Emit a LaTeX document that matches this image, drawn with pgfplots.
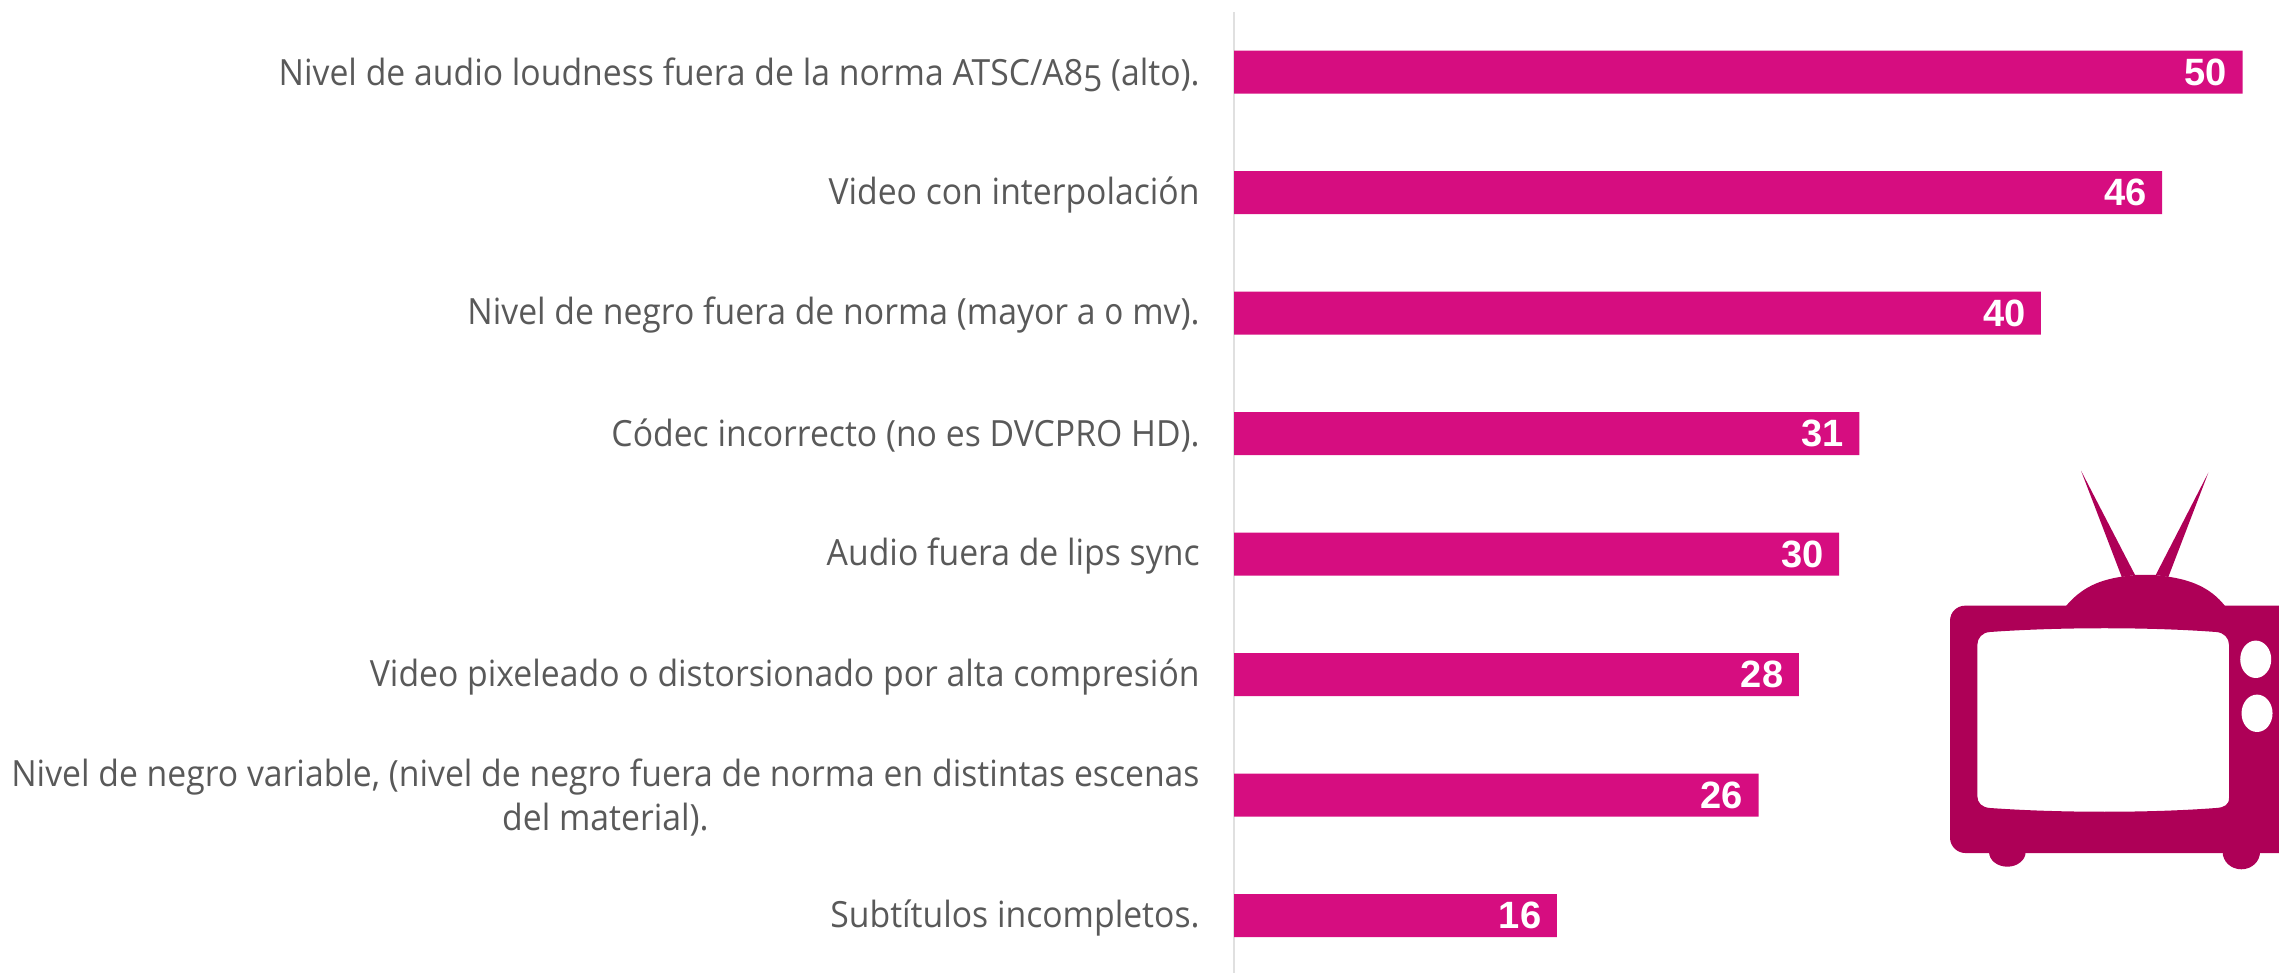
\documentclass[border=0pt]{standalone}
\usepackage{fontspec}
\setmainfont[Numbers=OldStyle,FakeStretch=0.934]{Open Sans}
\newfontfamily\valfont{Liberation Sans}
\usepackage{pgfplots}
\pgfplotsset{compat=1.18}
\definecolor{barc}{HTML}{D60D80}
\definecolor{tvc}{HTML}{AE0057}
\definecolor{txt}{HTML}{595959}
\definecolor{axl}{HTML}{E0E0E0}
\begin{document}
\begin{tikzpicture}
\useasboundingbox (0,0) rectangle (820.44pt,350.28pt);
\begin{axis}[
  at={(444.24pt,0pt)}, anchor=south west,
  scale only axis, width=376.2pt, height=345.96pt,
  xbar, bar width=15.48pt, bar shift=0pt,
  xmin=0, xmax=51.8,
  ymin=-0.498, ymax=7.477, y dir=reverse,
  axis y line*=left, axis x line=none,
  y axis line style={draw=axl, line width=1pt, -},
  ytick={0,1,2,3,4,5,6,7},
  yticklabels={
    {Nivel de audio loudness fuera de la norma ATSC/A85 (alto).},
    {Video con interpolación},
    {Nivel de negro fuera de norma (mayor a 0 mv).},
    {Códec incorrecto (no es DVCPRO HD).},
    {Audio fuera de lips sync},
    {Video pixeleado o distorsionado por alta compresión},
    {Nivel de negro variable, (nivel de negro fuera de norma en distintas escenas\\del material).},
    {Subtítulos incompletos.}},
  y tick label style={align=center, font=\fontsize{13}{15.8}\selectfont, text=txt, inner sep=0pt, xshift=-12.2pt, yshift=-0.9pt, anchor=east},
  major tick length=0pt,
  nodes near coords,
  nodes near coords style={anchor=east, inner sep=0pt, xshift=-5.4pt, text=white, font=\valfont\bfseries\fontsize{13.7}{16}\selectfont},
  point meta=x,
  every node near coord/.append style={/pgf/number format/assume math mode=true},
  clip=false,
]
\addplot[draw=none, fill=barc] coordinates {(50,0) (46,1) (40,2) (31,3) (30,4) (28,5) (26,6) (16,7)};
\end{axis}
\begin{scope}[x=0.36pt,y=-0.36pt,yshift=350.28pt]
  \fill[tvc] (2081,470.7) -- (2121.7,577) -- (2135,575) -- cycle;
  \fill[tvc] (2208.3,472.7) -- (2168.3,577) -- (2155.7,575) -- cycle;
  \fill[tvc] (2066,606) .. controls (2082,587) and (2100,580) .. (2121.7,576.7) -- (2135,575) -- (2155,575) -- (2168.3,576.7) .. controls (2190,580) and (2210,587) .. (2225,606) -- cycle;
  \fill[tvc] (1989,852) arc[start angle=180,end angle=0,x radius=18.3,y radius=14.7] -- cycle;
  \fill[tvc] (2222.6,852) arc[start angle=180,end angle=0,x radius=18.7,y radius=17.3] -- cycle;
  \fill[tvc,even odd rule]
    (1965,605.7) -- (2279,605.7) -- (2279,853) -- (1965,853) .. controls (1957,853) and (1950,846) .. (1950,838) -- (1950,620.7) .. controls (1950,612) and (1957,605.7) .. (1965,605.7) -- cycle
    (1990,632) .. controls (2060,627) and (2150,627) .. (2216,632) .. controls (2224,632.5) and (2229,638) .. (2229,645) -- (2229,798) .. controls (2229,805) and (2224,807.5) .. (2216,808) .. controls (2150,813) and (2060,813) .. (1990,808) .. controls (1982,807.5) and (1977.3,803) .. (1977.3,796) -- (1977.3,645) .. controls (1977.3,638) and (1982,632.5) .. (1990,632) -- cycle;
  \fill[white] (2255.7,659.3) ellipse[x radius=15.5,y radius=18.7];
  \fill[white] (2257,713.3) ellipse[x radius=15.5,y radius=18.7];
\end{scope}
\end{tikzpicture}
\end{document}
